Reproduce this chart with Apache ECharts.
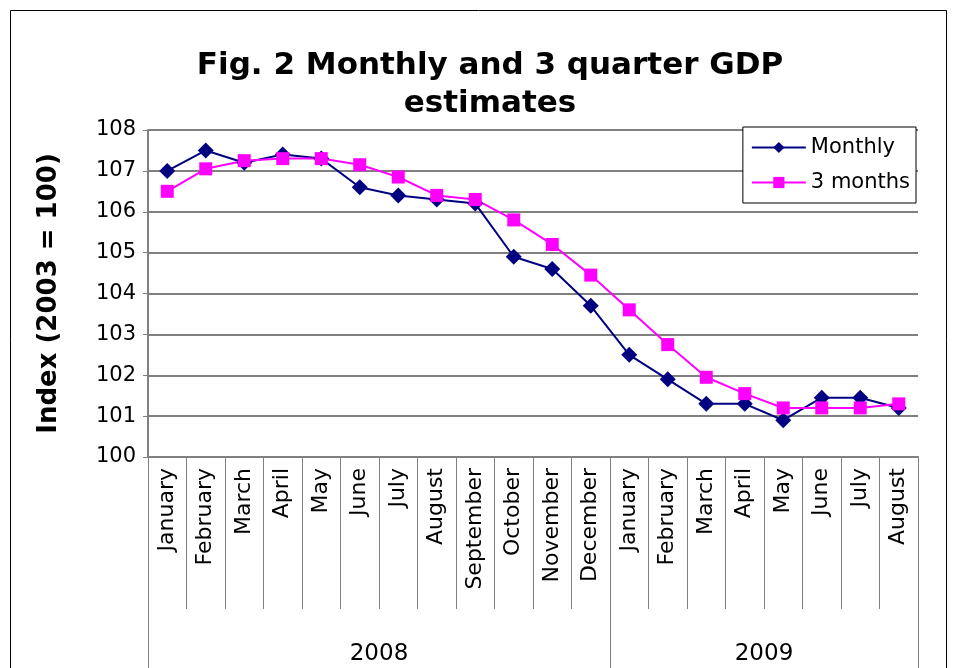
<!DOCTYPE html>
<html>
<head>
<meta charset="utf-8">
<script src="https://cdn.jsdelivr.net/npm/echarts@6/dist/echarts.min.js"></script>
<style>
  html, body { margin: 0; padding: 0; background: #fff; }
  #main { width: 955px; height: 668px; }
</style>
</head>
<body>
<div id="main"></div>
<script>
// months Jan 2008 .. Aug 2009
var months = ['January', 'February', 'March', 'April', 'May', 'June', 'July', 'August',
  'September', 'October', 'November', 'December',
  'January', 'February', 'March', 'April', 'May', 'June', 'July', 'August'];
// year groups: label and number of months
var years = ['2008', '2009'];
var yearSpan = [12, 8];
var monthly = [107.0, 107.5, 107.2, 107.4, 107.3, 106.6, 106.4, 106.3, 106.2, 104.9, 104.6, 103.7,
  102.5, 101.9, 101.3, 101.3, 100.9, 101.45, 101.45, 101.2];
var threeMonths = [106.5, 107.05, 107.25, 107.3, 107.3, 107.15, 106.85, 106.4, 106.3, 105.8, 105.2, 104.45,
  103.6, 102.75, 101.95, 101.55, 101.2, 101.2, 101.2, 101.3];

// boundary slots for the year row (one more than months)
var bounds = [];
for (var i = 0; i <= months.length; i++) bounds.push(i);
var yearCentre = {}, yearEdge = {0: true};
var acc = 0;
years.forEach(function (y, k) {
  yearCentre[acc + yearSpan[k] / 2] = y;
  acc += yearSpan[k];
  yearEdge[acc] = true;
});

var font = 'DejaVu Sans, Verdana, sans-serif';
var chart = echarts.init(document.getElementById('main'), null, {renderer: 'canvas'});
chart.setOption({
  animation: false,
  title: {
    text: 'Fig. 2 Monthly and 3 quarter GDP\nestimates',
    left: 485,
    textAlign: 'center',
    top: 42,
    textStyle: {fontFamily: font, fontSize: 31, fontWeight: 'bold', color: '#000', lineHeight: 38}
  },
  graphic: [{
    type: 'rect',
    shape: {x: 10.5, y: 10.5, width: 936, height: 700},
    style: {fill: 'none', stroke: '#000', lineWidth: 1},
    silent: true
  }],
  legend: {
    right: 39,
    top: 127,
    orient: 'vertical',
    itemWidth: 54,
    itemHeight: 14,
    itemGap: 14,
    padding: [10, 6, 10, 8],
    borderColor: '#000',
    borderWidth: 1,
    backgroundColor: '#fff',
    textStyle: {fontFamily: font, fontSize: 21, color: '#000'},
    data: ['Monthly', '3 months']
  },
  grid: {left: 148, right: 37, top: 130, bottom: 211, containLabel: false},
  xAxis: [{
    type: 'category',
    data: months,
    boundaryGap: true,
    axisLine: {lineStyle: {color: '#808080', width: 2}},
    axisTick: {show: true, interval: 0, length: 152, lineStyle: {color: '#808080', width: 1}},
    axisLabel: {
      interval: 0, rotate: 90, margin: 11,
      fontFamily: font, fontSize: 22, color: '#000'
    }
  }, {
    type: 'category',
    data: bounds,
    boundaryGap: false,
    position: 'bottom',
    axisLine: {show: false},
    axisTick: {
      show: true, length: 230,
      interval: function (idx) { return !!yearEdge[idx]; },
      lineStyle: {color: '#808080', width: 1}
    },
    axisLabel: {
      interval: 0, margin: 186,
      fontFamily: font, fontSize: 23, color: '#000',
      formatter: function (v, idx) { return yearCentre[idx] || ''; }
    }
  }],
  yAxis: {
    type: 'value',
    min: 100,
    max: 108,
    interval: 1,
    name: 'Index (2003 = 100)',
    nameLocation: 'middle',
    nameGap: 86,
    nameTextStyle: {fontFamily: font, fontSize: 26, fontWeight: 'bold', color: '#000'},
    axisLine: {show: true, lineStyle: {color: '#808080', width: 2}},
    axisTick: {show: true, length: 5, lineStyle: {color: '#808080', width: 1}},
    axisLabel: {margin: 12, fontFamily: font, fontSize: 21, color: '#000'},
    splitLine: {lineStyle: {color: '#808080', width: 2}}
  },
  series: [{
    name: 'Monthly',
    type: 'line',
    data: monthly,
    symbol: 'diamond',
    symbolSize: 16,
    itemStyle: {color: '#000080'},
    lineStyle: {color: '#000080', width: 2}
  }, {
    name: '3 months',
    type: 'line',
    data: threeMonths,
    symbol: 'rect',
    symbolSize: 13,
    itemStyle: {color: '#FF00FF'},
    lineStyle: {color: '#FF00FF', width: 2}
  }]
});
</script>
</body>
</html>
